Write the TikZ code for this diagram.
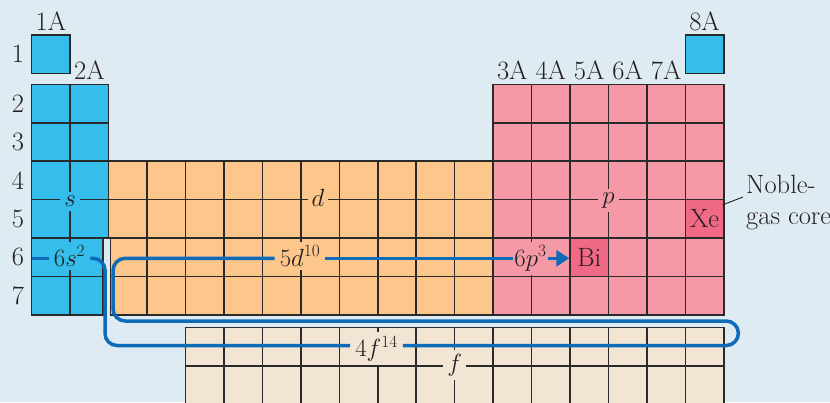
\documentclass[tikz,border=0pt]{standalone}
\usetikzlibrary{arrows.meta,calc}
\definecolor{bg}{HTML}{DFEBF2}
\definecolor{sblue}{HTML}{35BDEC}
\definecolor{dorange}{HTML}{FDC68B}
\definecolor{ppink}{HTML}{F599A6}
\definecolor{hpink}{HTML}{F06A86}
\definecolor{fbeige}{HTML}{F2E5D3}
\definecolor{lineblue}{HTML}{0E6BB8}
\definecolor{gridc}{HTML}{2A2A2A}
\definecolor{txt}{HTML}{231F20}
\begin{document}
\begin{tikzpicture}[x=1pt,y=-1pt,
  font=\fontsize{26.5}{31}\selectfont, text=txt,
  cellbase/.style={draw=gridc, line width=1.5pt},
  scell/.style={cellbase, fill=sblue},
  dcell/.style={cellbase, fill=dorange},
  pcell/.style={cellbase, fill=ppink},
  fcell/.style={cellbase, fill=fbeige},
  hcell/.style={cellbase, fill=hpink, minimum size=38.45pt, inner sep=0pt},
  blklab/.style={anchor=base, inner xsep=4pt, inner ysep=4pt},
  linelab/.style={anchor=base, inner xsep=5pt, inner ysep=4pt},
  collab/.style={anchor=base, inner sep=0pt},
  rowlab/.style={inner sep=0pt},
  bl/.style={draw=lineblue, line width=3.5pt},
  leader/.style={draw=txt, line width=0.9pt}
  ]
\useasboundingbox (0,0) rectangle (830,402);
\fill[bg] (0,0) rectangle (830,402);
\clip (0,0) rectangle (830,402);
\def\cs{38.45}
% row 1
\draw[scell] (31.7,35) rectangle ++(\cs,\cs);
\draw[scell] ({31.7+17*\cs},35) rectangle ++(\cs,\cs);
% s block rows 2-5
\foreach \rr in {2,...,5}{\foreach \cc in {1,2}{
  \draw[scell] ({31.7+(\cc-1)*\cs},{84.3+(\rr-2)*\cs}) rectangle ++(\cs,\cs);}}
% s block rows 6-7
\foreach \rr in {6,7}{
  \draw[scell] (31.7,{84.3+(\rr-2)*\cs}) rectangle ++(\cs,\cs);
  \draw[scell] ({31.7+\cs},{84.3+(\rr-2)*\cs}) rectangle (103,{84.3+(\rr-1)*\cs});}
% d block rows 4-5
\foreach \rr in {4,5}{\foreach \cc in {3,...,12}{
  \draw[dcell] ({31.7+(\cc-1)*\cs},{84.3+(\rr-2)*\cs}) rectangle ++(\cs,\cs);}}
% d block rows 6-7
\foreach \rr in {6,7}{
  \draw[dcell] (110.5,{84.3+(\rr-2)*\cs}) rectangle ({31.7+3*\cs},{84.3+(\rr-1)*\cs});
  \foreach \cc in {4,...,12}{
  \draw[dcell] ({31.7+(\cc-1)*\cs},{84.3+(\rr-2)*\cs}) rectangle ++(\cs,\cs);}}
% p block
\foreach \rr in {2,...,7}{\foreach \cc in {13,...,18}{
  \draw[pcell] ({31.7+(\cc-1)*\cs},{84.3+(\rr-2)*\cs}) rectangle ++(\cs,\cs);}}
% f block
\foreach \rr in {0,1,2}{\foreach \cc in {5,...,18}{
  \draw[fcell] ({31.7+(\cc-1)*\cs},{327.3+\rr*\cs}) rectangle ++(\cs,\cs);}}
% highlighted cells
\node[hcell] (Xe) at ({31.7+17.5*\cs},{84.3+3.5*\cs}) {Xe};
\node[hcell] (Bi) at ({31.7+14.5*\cs},{84.3+4.5*\cs}) {Bi};
% column labels
\node[collab] (g1) at (51,30.7) {1A};
\node[collab] (g2) at ({31.7+1.5*\cs},79) {2A};
\node[collab] (g3) at ({31.7+12.5*\cs},79) {3A};
\node[collab] (g4) at ({31.7+13.5*\cs},79) {4A};
\node[collab] (g5) at ({31.7+14.5*\cs},79) {5A};
\node[collab] (g6) at ({31.7+15.5*\cs},79) {6A};
\node[collab] (g7) at ({31.7+16.5*\cs},79) {7A};
\node[collab] (g8) at ({31.7+17.5*\cs},30.7) {8A};
% row labels
\node[rowlab] (r1) at (18,54.2) {1};
\foreach \rr in {2,...,7}{
  \node[rowlab] (r\rr) at (18,{84.3+(\rr-1.5)*\cs}) {\rr};}
% block labels
\node[blklab, fill=sblue] (slab) at ({31.7+\cs},206.5) {$s$};
\node[blklab, fill=dorange] (dlab) at (318,206.5) {$d$};
\node[blklab, fill=ppink] (plab) at ({31.7+15*\cs},203.5) {$p$};
\node[blklab, fill=fbeige] (flab) at ({31.7+11*\cs},371) {$f$};
% line labels
\coordinate (Lst) at (31.7,258.3);
\coordinate (Lb) at (0,345.5);
\node[linelab, fill=sblue] (s6) at (69.5,266) {$6s^{2}$};
\node[linelab, fill=dorange] (d10) at (300,266) {$5d^{10}$};
\node[linelab, fill=ppink, inner xsep=1.5pt] (p3) at (530.5,266) {$6p^{3}$};
\node[linelab, fill=fbeige] (f14) at (376.5,356.5) {$4f^{14}$};
% connector
\draw[bl] (Lst) -- (s6.west |- Lst);
\draw[bl, rounded corners=12pt] (s6.east |- Lst) -- (105,258.3) -- (105,345.5) -- (f14.west |- Lb);
\draw[bl, rounded corners=12.25pt] (f14.east |- Lb) -- (738.4,345.5) -- (738.4,321) -- (113,321) -- (113,258.3) -- (d10.west |- Lst);
\draw[bl] (d10.east |- Lst) -- (p3.west |- Lst);
\draw[bl, -{Triangle[length=13pt,width=16pt]}] (p3.east |- Lst) -- (Bi.west |- Lst);
% noble gas note
\node[anchor=north west, inner sep=0pt, align=left, font=\fontsize{26.5}{31}\selectfont] (note) at (746,175) {Noble-\\gas core};
\draw[leader] ($(Xe.east)+(-2,-14)$) -- ($(note.north west)+(-3,22)$);
\end{tikzpicture}
\end{document}
